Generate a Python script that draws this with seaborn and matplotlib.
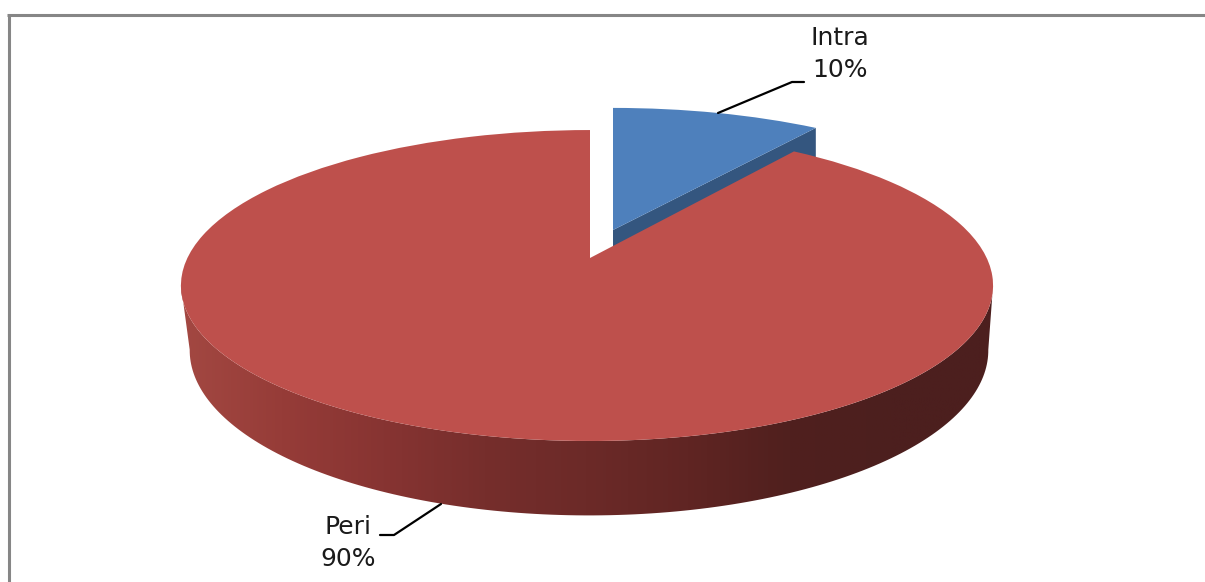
# 3D-look pie of Intra / Peri shares, small slice pulled out
import numpy as np
import matplotlib
matplotlib.use('Agg')
import matplotlib.pyplot as plt
from matplotlib.patches import Polygon
from matplotlib.transforms import Transform
import seaborn as sns

# Data
labels = ['Intra', 'Peri']
shares = [10, 90]

# Colours
top_colors = ['#4E80BC', '#BE504C']
blue_side = '#34567F'
frame_color = '#868686'
side_stops = ['#A34842', '#963C38', '#873432', '#762E2C', '#6C2A28',
              '#602523', '#50201E', '#4C1F1E', '#4C1F1E']

sns.set_theme(style='white')


class Tilt(Transform):
    # perspective from the flat unit-circle pie to picture pixels
    input_dims = 2
    output_dims = 2

    def __init__(self, cx, cy, a_left, a_right, b, k):
        super().__init__()
        self.cx, self.cy, self.a_left, self.a_right = cx, cy, a_left, a_right
        self.b, self.k = b, k

    def transform_non_affine(self, xy):
        xy = np.asarray(xy, dtype=float)
        w = 1 + self.k * xy[:, 1]
        a = np.where(xy[:, 0] < 0, self.a_left, self.a_right)
        return np.column_stack([self.cx + a * xy[:, 0] / w,
                                self.cy - self.b * xy[:, 1] / w])


# Each slice has its own top and bottom face, the small one sits up and right
peri_top = Tilt(590, 258, 402.6, 396.7, 150.6, 0.177)
peri_bottom = Tilt(589, 321, 393, 393, 160, 0.177)
intra_top = Tilt(613, 230, 402, 402, 147, 0.204)
intra_bottom = Tilt(613, 299, 402, 402, 147, 0.204)

fig = plt.figure(figsize=(12.05, 5.82), dpi=100)
ax = fig.add_axes([0, 0, 1, 1])

wedges, _ = ax.pie(shares, colors=top_colors, startangle=90,
                   counterclock=False, wedgeprops=dict(linewidth=0))
wedges[0].set_transform(intra_top + ax.transData)
wedges[0].set_zorder(4)
wedges[1].set_transform(peri_top + ax.transData)
wedges[1].set_zorder(6)

ax.set_aspect('auto')
ax.set_axis_off()


def rim(wedge, degrees):
    t = np.radians(degrees)
    return np.column_stack([wedge.center[0] + wedge.r * np.cos(t),
                            wedge.center[1] + wedge.r * np.sin(t)])


# Cut face of the pulled-out slice, mostly hidden behind the big slice
blue = wedges[0]
edge = np.vstack([blue.center, rim(blue, np.array([blue.theta1]))])
blue_face = np.vstack([intra_top.transform(edge), intra_bottom.transform(edge)[::-1]])
ax.add_patch(Polygon(blue_face, closed=True, color=blue_side, lw=0, zorder=3))

# Round side of the big slice, shaded left to right
front = rim(wedges[1], np.linspace(190, 350, 160))
side = np.vstack([peri_top.transform(front), peri_bottom.transform(front)[::-1]])
clip = Polygon(side, closed=True, transform=ax.transData, facecolor='none', lw=0)
ax.add_patch(clip)
side_cmap = sns.blend_palette(side_stops, n_colors=256, as_cmap=True)
img = ax.imshow(np.linspace(0, 1, 512)[None, :], cmap=side_cmap, aspect='auto',
                extent=(180, 993, 520, 280), zorder=5)
img.set_clip_path(clip)
ax.set_xlim(0, 1205)
ax.set_ylim(582, 0)

# Chart frame, only top and left are inside the crop
ax.plot([7, 1205], [14.5, 14.5], color=frame_color, lw=2.2, solid_capstyle='butt')
ax.plot([8.5, 8.5], [14.5, 582], color=frame_color, lw=2.2, solid_capstyle='butt')

# Leader lines
ax.plot([718, 792, 804], [113, 82, 82], color='black', lw=1.6, zorder=7)
ax.plot([441, 394, 380], [504, 535, 535], color='black', lw=1.6, zorder=7)

# Data labels
ax.text(840, 54, f'{labels[0]}\n{shares[0]}%', ha='center', va='center',
        fontsize=18, color='#1a1a1a', linespacing=1.4, zorder=8)
ax.text(348, 543, f'{labels[1]}\n{shares[1]}%', ha='center', va='center',
        fontsize=18, color='#1a1a1a', linespacing=1.4, zorder=8)

fig.savefig('out.png', dpi=100)
